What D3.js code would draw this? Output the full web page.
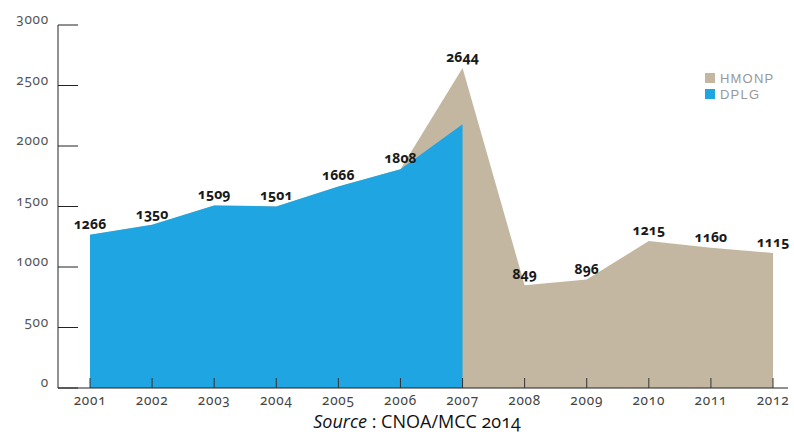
<!DOCTYPE html>
<html>
<head>
<meta charset="utf-8">
<script src="https://cdn.jsdelivr.net/npm/d3@7"></script>
<style>
  body { margin: 0; background: #fff; }
  text { font-family: "Noto Sans", sans-serif; font-variant-numeric: oldstyle-nums; }
</style>
</head>
<body>
<script>
const width = 794;
const height = 439;

// data
const years = [2001, 2002, 2003, 2004, 2005, 2006, 2007, 2008, 2009, 2010, 2011, 2012];
const dplg = [1266, 1350, 1509, 1501, 1666, 1808, 2180];
const total = [1266, 1350, 1509, 1501, 1666, 1808, 2644, 849, 896, 1215, 1160, 1115];
const labels = [1266, 1350, 1509, 1501, 1666, 1808, 2644, 849, 896, 1215, 1160, 1115];
const yTicks = [0, 500, 1000, 1500, 2000, 2500, 3000];
const legend = [{name: "HMONP", color: "#c3b7a1"}, {name: "DPLG", color: "#1fa5e1"}];

const svg = d3.select("body")
    .append("svg")
    .attr("width", width)
    .attr("height", height);

const x = d3.scaleLinear()
    .domain([2001, 2012])
    .range([90, 773]);

const y = d3.scaleLinear()
    .domain([0, 3000])
    .range([388, 25]);

const area = d3.area()
    .x((d, i) => x(years[i]))
    .y0(y(0))
    .y1(d => y(d));

// HMONP (total) behind, DPLG on top
svg.append("path")
    .datum(total)
    .attr("d", area)
    .attr("fill", legend[0].color);

svg.append("path")
    .datum(dplg)
    .attr("d", area)
    .attr("fill", legend[1].color);

// y axis
svg.append("line")
    .attr("x1", 58).attr("x2", 58)
    .attr("y1", y(3000)).attr("y2", y(0))
    .attr("stroke", "#222").attr("stroke-width", 1);

svg.selectAll(".ytick")
    .data(yTicks)
    .enter()
    .append("line")
    .attr("x1", 58).attr("x2", 78)
    .attr("y1", d => y(d)).attr("y2", d => y(d))
    .attr("stroke", "#222").attr("stroke-width", 1);

svg.selectAll(".ylabel")
    .data(yTicks)
    .enter()
    .append("text")
    .attr("x", 49)
    .attr("y", d => y(d) - 1)
    .attr("text-anchor", "end")
    .attr("font-size", 13.5)
    .attr("letter-spacing", 0.8)
    .attr("fill", "#555")
    .text(d => d);

// x axis
svg.append("line")
    .attr("x1", 58).attr("x2", 788)
    .attr("y1", y(0)).attr("y2", y(0))
    .attr("stroke", "#222").attr("stroke-width", 1);

svg.selectAll(".xtick")
    .data(years)
    .enter()
    .append("line")
    .attr("x1", d => x(d)).attr("x2", d => x(d))
    .attr("y1", y(0) - 10).attr("y2", y(0))
    .attr("stroke", "#333").attr("stroke-width", 1);

svg.selectAll(".xlabel")
    .data(years)
    .enter()
    .append("text")
    .attr("x", d => x(d))
    .attr("y", 405)
    .attr("text-anchor", "middle")
    .attr("font-size", 13.5)
    .attr("letter-spacing", 0.8)
    .attr("fill", "#444")
    .text(d => d);

// value labels
svg.selectAll(".vlabel")
    .data(labels)
    .enter()
    .append("text")
    .attr("x", (d, i) => x(years[i]))
    .attr("y", d => y(d) - 6)
    .attr("text-anchor", "middle")
    .attr("font-size", 14)
    .attr("font-weight", "bold")
    .attr("fill", "#1a1a1a")
    .text(d => d);

// legend
const lg = svg.selectAll(".legend")
    .data(legend)
    .enter()
    .append("g")
    .attr("transform", (d, i) => "translate(705," + (73 + i * 16) + ")");

lg.append("rect")
    .attr("width", 10).attr("height", 10)
    .attr("fill", d => d.color);

lg.append("text")
    .attr("x", 15)
    .attr("y", 10)
    .attr("font-size", 13)
    .attr("letter-spacing", 1.2)
    .attr("fill", "#999")
    .style("font-family", "'Liberation Sans', sans-serif")
    .text(d => d.name);

// source line
const src = svg.append("text")
    .attr("x", 417)
    .attr("y", 428)
    .attr("text-anchor", "middle")
    .attr("font-size", 18)
    .attr("fill", "#111")
    .style("font-family", "'Open Sans', sans-serif");
src.append("tspan").attr("font-style", "italic").text("Source");
src.append("tspan").text(" : CNOA/MCC 2014");
</script>
</body>
</html>
